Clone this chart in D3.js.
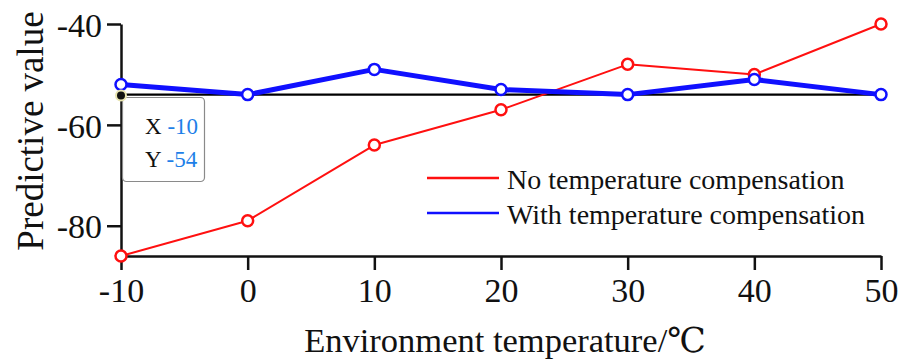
<!DOCTYPE html>
<html><head><meta charset="utf-8">
<script src="https://cdn.jsdelivr.net/npm/d3@7"></script>
<style>html,body{margin:0;padding:0;background:#fff;}svg{display:block;font-family:"Liberation Serif","DejaVu Serif","Times New Roman",serif;}</style>
</head><body>
<svg id="c" width="900" height="364"></svg>
<script>
const temps = [-10, 0, 10, 20, 30, 40, 50];
const noComp = [-86, -79, -64, -57, -48, -50, -40];
const withComp = [-52, -54, -49, -53, -54, -51, -54];
const xTicks = [-10, 0, 10, 20, 30, 40, 50];
const yTicks = [-40, -60, -80];
const refValue = -54;
const seriesNames = ["No temperature compensation", "With temperature compensation"];
const xTitle = "Environment temperature/\u2103";
const yTitle = "Predictive value";

const svg = d3.select("#c");
const x = d3.scaleLinear().domain([-10, 50]).range([121, 881]);
const y = d3.scaleLinear().domain([-86, -40]).range([256, 24]);
const fmt = d => String(d);
const serif = "'Liberation Serif','DejaVu Serif','Times New Roman',serif";

// axes
const xAxis = svg.append("g").attr("transform", `translate(0,${y(-86)})`)
  .call(d3.axisBottom(x).tickValues(xTicks).tickSize(14).tickSizeOuter(0).tickPadding(4).tickFormat(fmt));
const yAxis = svg.append("g").attr("transform", `translate(${x(-10)},0)`)
  .call(d3.axisLeft(y).tickValues(yTicks).tickSize(14).tickSizeOuter(0).tickPadding(5).tickFormat(fmt));
[xAxis, yAxis].forEach(a => {
  a.attr("font-family", serif).attr("font-size", 34);
  a.select(".domain").attr("stroke", "#111").attr("stroke-width", 2.5);
  a.selectAll(".tick line").attr("stroke", "#111").attr("stroke-width", 2.5);
  a.selectAll("text").attr("fill", "#111");
});
xAxis.selectAll("text").attr("dy", "0.82em");
yAxis.selectAll("text").attr("dy", "0.36em");

// titles
svg.append("text").attr("x", 505).attr("y", 352).attr("text-anchor", "middle")
  .attr("font-size", 34.5).attr("fill", "#111").text(xTitle);
svg.append("text").attr("transform", `translate(43,131) rotate(-90)`).attr("text-anchor", "middle")
  .attr("font-size", 37).attr("fill", "#111").text(yTitle);

// reference line
svg.append("line").attr("x1", x(-10)).attr("x2", x(50)).attr("y1", y(refValue)).attr("y2", y(refValue))
  .attr("stroke", "#000").attr("stroke-width", 2.2);

const line = d3.line().x((d, i) => x(temps[i])).y(d => y(d));

function series(vals, color, w) {
  svg.append("path").datum(vals).attr("d", line).attr("fill", "none").attr("stroke", color)
    .attr("stroke-width", w).attr("stroke-linejoin", "round");
  svg.append("g").selectAll("circle").data(vals).join("circle")
    .attr("cx", (d, i) => x(temps[i])).attr("cy", d => y(d)).attr("r", 5.5)
    .attr("fill", "#fff").attr("stroke", color).attr("stroke-width", 2.5);
}
series(noComp, "#ff1010", 2);
series(withComp, "#1010ff", 5);

// legend
const leg = svg.append("g");
[["#ff1010", 0], ["#1010ff", 1]].forEach(([c, i]) => {
  const ly = 178 + i * 35;
  leg.append("line").attr("x1", 427).attr("x2", 499).attr("y1", ly).attr("y2", ly)
    .attr("stroke", c).attr("stroke-width", 2.5);
  leg.append("text").attr("x", 507).attr("y", ly + 11).attr("font-size", 28).attr("fill", "#111")
    .text(seriesNames[i]);
});

// tooltip
const tt = svg.append("g");
tt.append("rect").attr("x", 122.5).attr("y", 97.5).attr("width", 82).attr("height", 84).attr("rx", 4)
  .attr("fill", "#fff").attr("fill-opacity", 0.9).attr("stroke", "#8a8a8a").attr("stroke-width", 1.2);
tt.append("circle").attr("cx", x(-10)).attr("cy", y(refValue) + 1).attr("r", 5)
  .attr("fill", "#111").attr("stroke", "#e8e4b0").attr("stroke-width", 2);
const t1 = tt.append("text").attr("x", 145).attr("y", 134).attr("font-size", 23);
t1.append("tspan").attr("fill", "#111").text("X ");
t1.append("tspan").attr("fill", "#1e7fe8").text("-10");
const t2 = tt.append("text").attr("x", 145).attr("y", 167).attr("font-size", 23);
t2.append("tspan").attr("fill", "#111").text("Y ");
t2.append("tspan").attr("fill", "#1e7fe8").text(String(refValue));
</script>
</body></html>
